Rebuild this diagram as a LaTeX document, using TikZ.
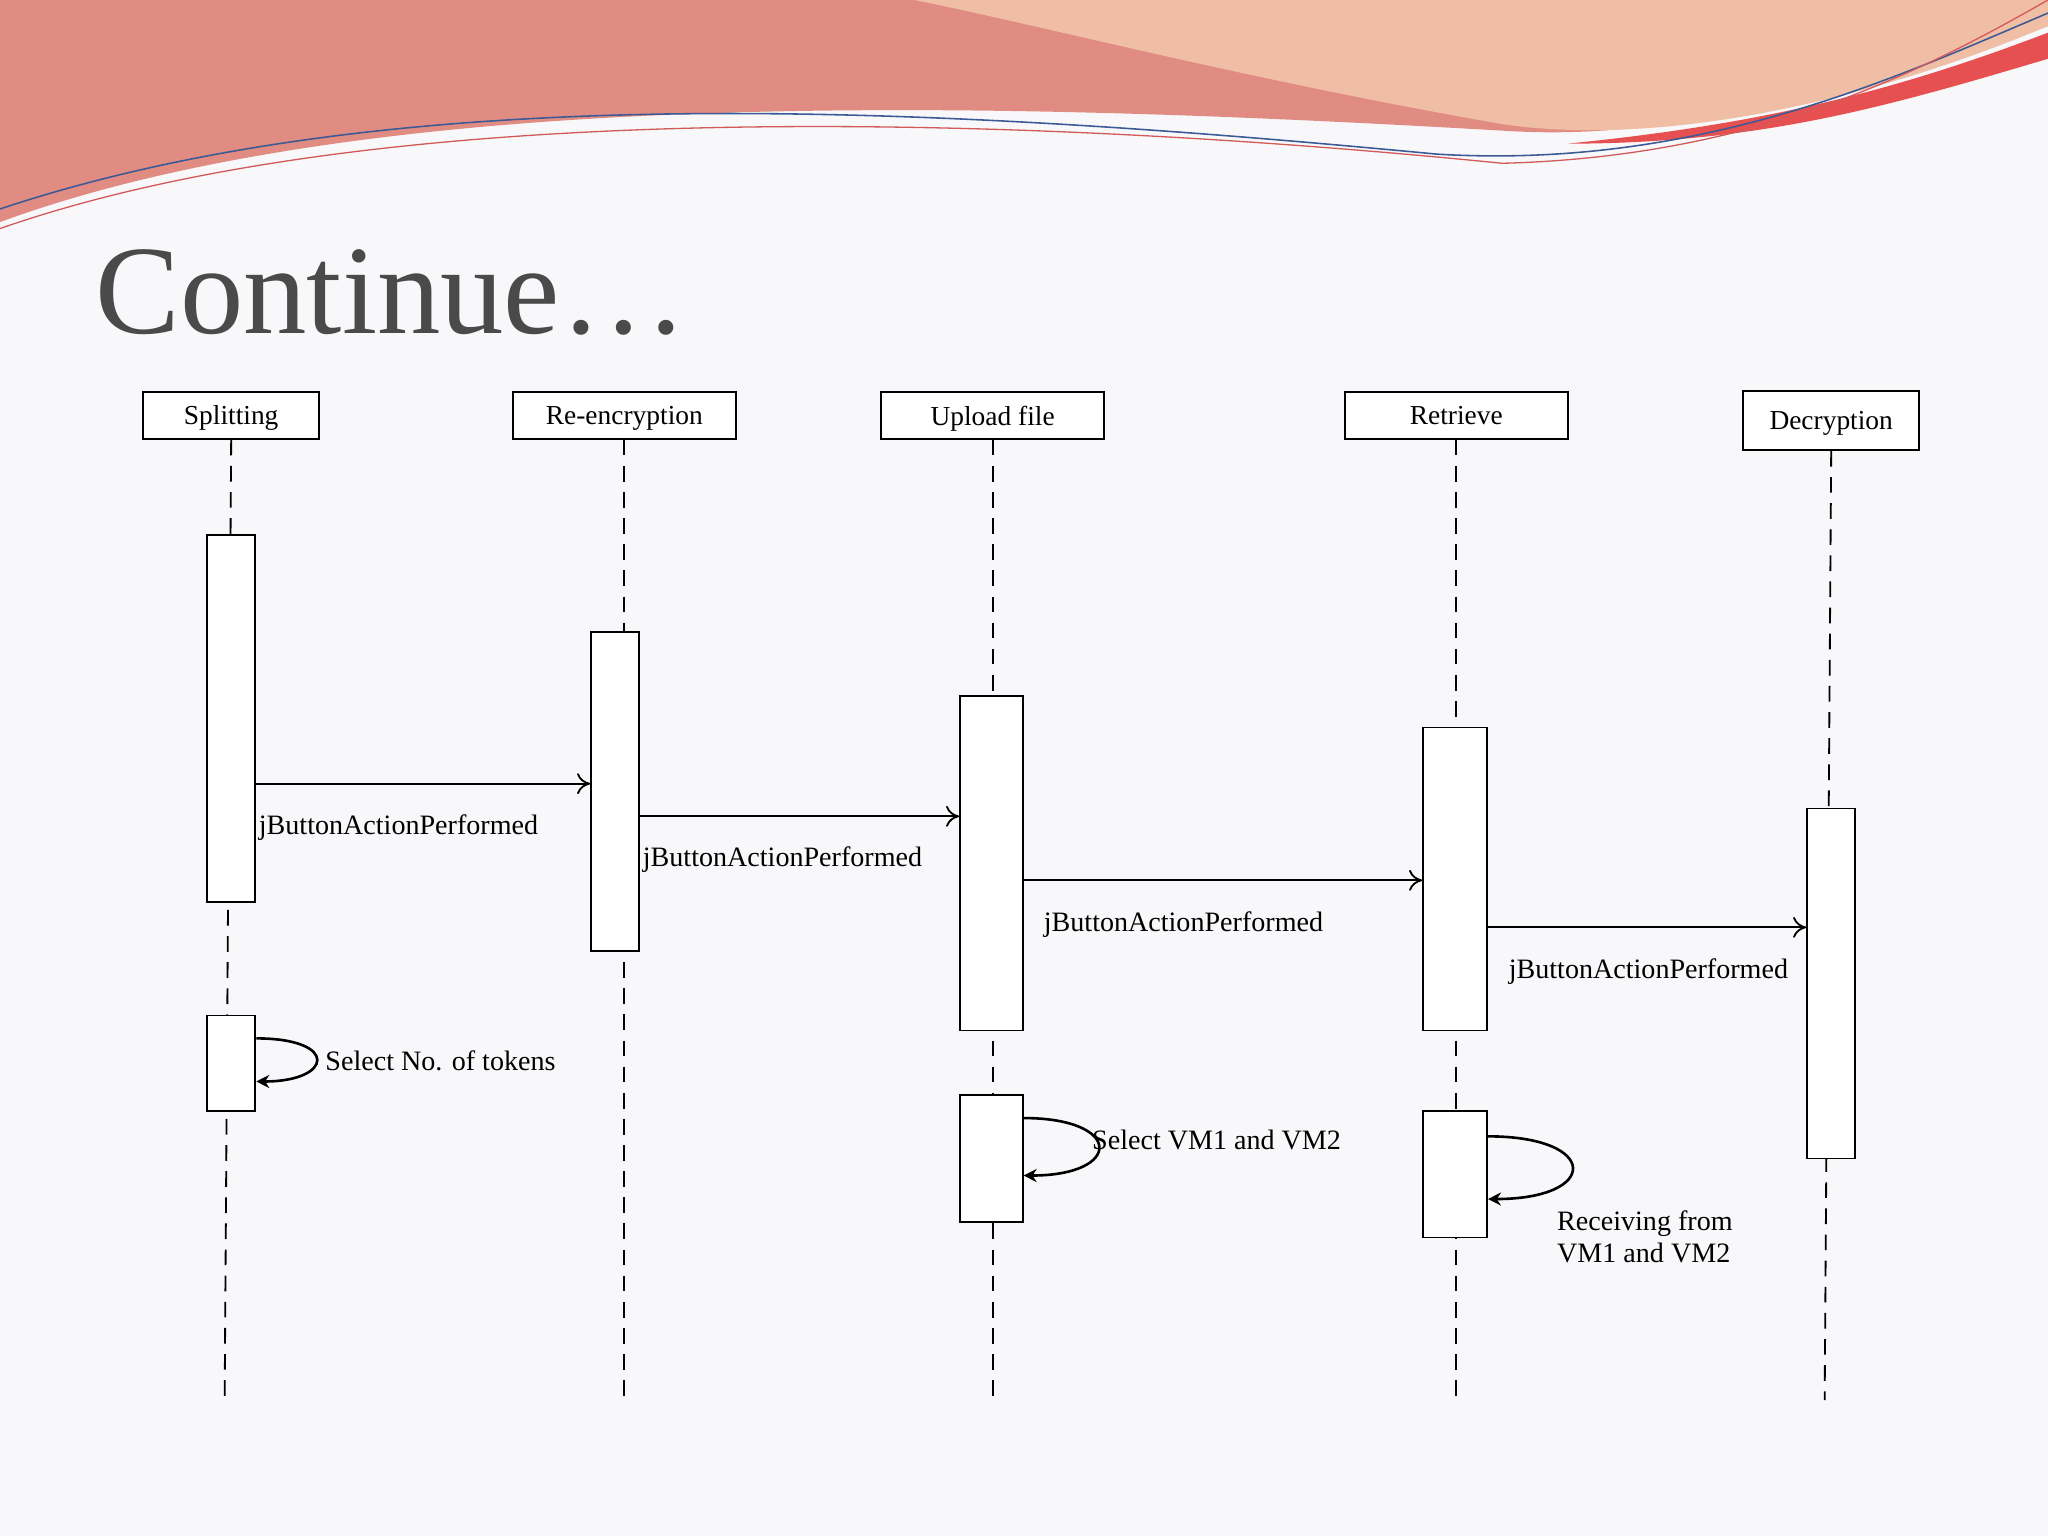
\documentclass[tikz,border=0pt]{standalone}
\usepackage{fontspec}
\setmainfont{Liberation Serif}
\usetikzlibrary{arrows.meta}
\definecolor{bgc}{RGB}{248,247,249}
\definecolor{swA}{RGB}{225,140,130}
\definecolor{swB}{RGB}{240,190,165}
\definecolor{swC}{RGB}{230,80,80}
\definecolor{lnA}{RGB}{60,90,150}
\definecolor{lnB}{RGB}{210,90,90}
\definecolor{ttl}{RGB}{74,74,74}
\begin{document}
\begin{tikzpicture}[x=1pt,y=-1pt,
 hdr/.style={draw,line width=1.4pt,fill=white,minimum height=36pt,inner sep=0pt,text depth=0pt,font=\fontsize{21}{22}\selectfont},
 act/.style={draw,line width=1.4pt,fill=white,inner sep=0pt},
 life/.style={line width=1.4pt,dash pattern=on 12pt off 8pt},
 msg/.style={line width=1.4pt,-{To[length=10pt,width=16pt]}},
 self/.style={line width=2pt,-{Stealth[length=10pt,width=10pt]}},
 lbl/.style={anchor=west,inner sep=0pt,font=\fontsize{21.5}{25}\selectfont}]
\useasboundingbox (0,0) rectangle (1568,1176);
\fill[bgc] (0,0) rectangle (1568,1176);
% top swoosh
\fill[swA] (0,0) -- (1568,0) -- (1568,20) .. controls (1400,60) and (1300,110) .. (1150,100) .. controls (800,80) and (300,60) .. (0,170) -- cycle;
\fill[swB] (700,0) -- (1568,0) -- (1568,20) .. controls (1400,90) and (1250,110) .. (1150,95) .. controls (950,60) and (800,20) .. (700,0) -- cycle;
\fill[swC] (1568,25) .. controls (1450,70) and (1350,95) .. (1200,110) .. controls (1350,110) and (1450,80) .. (1568,45) -- cycle;
\draw[lnA,line width=1.2pt] (0,160) .. controls (300,60) and (700,80) .. (1100,118) .. controls (1300,130) and (1450,60) .. (1568,10);
\draw[lnB,line width=1pt] (0,175) .. controls (300,70) and (800,90) .. (1150,125) .. controls (1350,120) and (1480,50) .. (1568,0);
\node[anchor=base west,inner sep=0pt,text=ttl,font=\fontsize{97}{100}\selectfont] (title) at (73,255) {Continue…};
% headers
\node[hdr,minimum width=135pt] (h1) at (177,318) {Splitting};
\node[hdr,minimum width=171pt] (h2) at (478,318) {Re-encryption};
\node[hdr,minimum width=171pt] (h3) at (760,318) {Upload file};
\node[hdr,minimum width=171pt] (h4) at (1115,318) {Retrieve};
\node[hdr,minimum width=135pt,minimum height=45pt] (h5) at (1402,322) {Decryption};
\coordinate (e1) at (172,1072);
\coordinate (e2) at (478,1072);
\coordinate (e3) at (760,1072);
\coordinate (e4) at (1115,1072);
\coordinate (e5) at (1397,1072);
\foreach \i in {1,...,5} \draw[life] (h\i.south) -- (e\i);
% activations
\node[act,minimum width=37pt,minimum height=281pt] (a1) at (177,550) {};
\node[act,minimum width=37pt,minimum height=73pt] (b1) at (177,814) {};
\node[act,minimum width=37pt,minimum height=244pt] (a2) at (471,606) {};
\node[act,minimum width=48pt,minimum height=256pt] (a3) at (759,661) {};
\node[act,minimum width=48pt,minimum height=97pt] (b3) at (759,887) {};
\node[act,minimum width=49pt,minimum height=232pt] (a4) at (1114,673) {};
\node[act,minimum width=49pt,minimum height=97pt] (b4) at (1114,899) {};
\node[act,minimum width=37pt,minimum height=268pt] (a5) at (1402,753) {};
% messages
\draw[msg] (a1.east|-0,600) -- (a2.west|-0,600);
\node[lbl] (m1) at (198,634) {jButtonActionPerformed};
\draw[msg] (a2.east|-0,625) -- (a3.west|-0,625);
\node[lbl] (m2) at (492,658) {jButtonActionPerformed};
\draw[msg] (a3.east|-0,674) -- (a4.west|-0,674);
\node[lbl] (m3) at (799,708) {jButtonActionPerformed};
\draw[msg] (a4.east|-0,710) -- (a5.west|-0,710);
\node[lbl] (m4) at (1155,744) {jButtonActionPerformed};
% self messages
\draw[self] (b1.east|-0,795) .. controls (260,795) and (255,828) .. (b1.east|-0,828);
\node[lbl] (s1) at (249,812) {Select No. of tokens};
\draw[self] (b3.east|-0,856) .. controls (860,856) and (860,900) .. (b3.east|-0,900);
\node[lbl] (s3) at (836,873) {Select VM1 and VM2};
\draw[self] (b4.east|-0,870) .. controls (1225,870) and (1225,918) .. (b4.east|-0,918);
\node[lbl,align=left] (s4) at (1192,947) {Receiving from\\VM1 and VM2};
\end{tikzpicture}
\end{document}
